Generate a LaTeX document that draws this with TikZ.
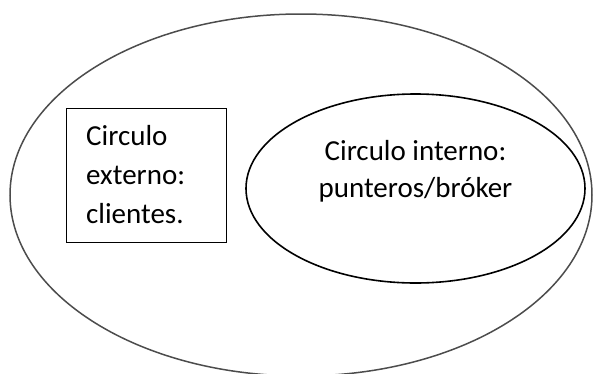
\documentclass[tikz,border=0pt]{standalone}
\usepackage{fontspec}
\setmainfont{Carlito}
\usetikzlibrary{shapes.geometric}

\begin{document}
\begin{tikzpicture}[x=1pt,y=-1pt,
    bigring/.style={ellipse,draw=black!70,line width=1.5pt,inner sep=0pt},
    smallring/.style={ellipse,draw=black,line width=1.6pt,inner sep=0pt},
    txt/.style={font=\fontsize{29}{37}\selectfont,inner sep=0pt}]
    \useasboundingbox (0,0) rectangle (595,373);
    \clip (0,0) rectangle (595,373);

    \node[bigring,minimum width=582pt,minimum height=362pt] (externo) at (301,195) {};
    \node[smallring,minimum width=339pt,minimum height=189pt] (interno) at (415.5,188.5) {};
    \node[draw,line width=0.8pt,minimum width=160pt,minimum height=134pt,inner sep=0pt] (caja) at (146,175) {};

    \node[txt,anchor=base west] (c1) at (86,145) {Circulo};
    \node[txt,anchor=base west] (c2) at (86,184) {externo:};
    \node[txt,anchor=base west] (c3) at (86,223) {clientes.};

    \node[txt,anchor=base] (i1) at (415.5,160) {Circulo interno:};
    \node[txt,anchor=base] (i2) at (415.5,197) {punteros/bróker};
\end{tikzpicture}
\end{document}
